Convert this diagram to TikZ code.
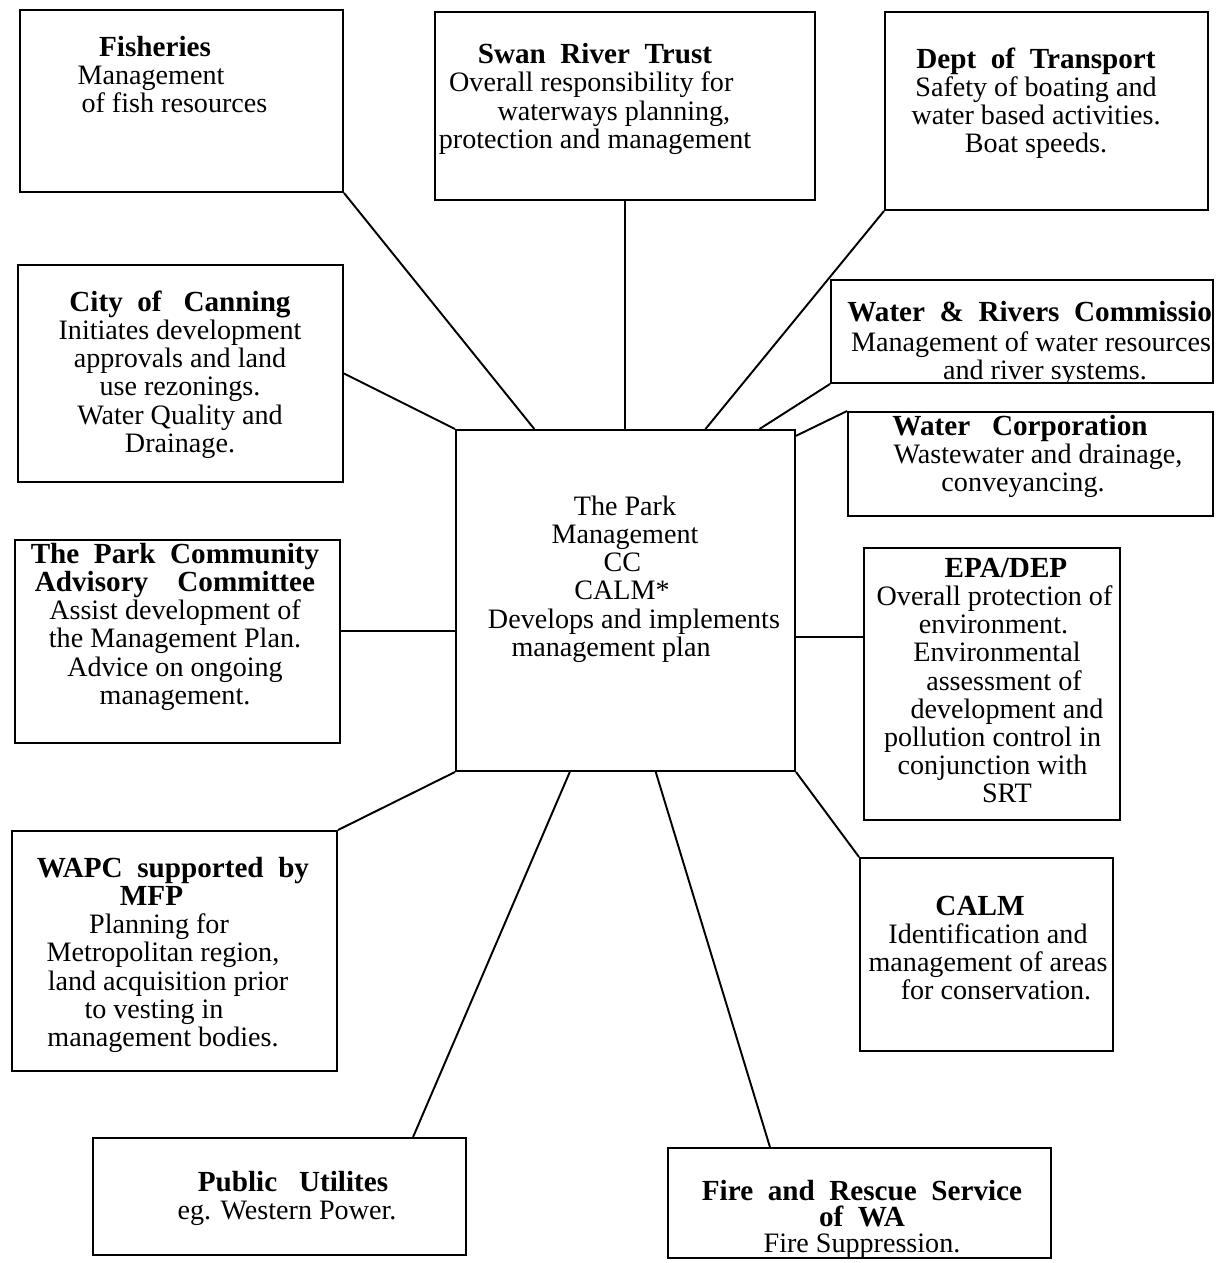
\documentclass[tikz,border=0pt]{standalone}
\usepackage{fontspec}
\setmainfont{Liberation Serif}
\usetikzlibrary{fit}
\newlength\pxu
\setlength\pxu{0.5669pt}
\newcommand\sh[1]{\hspace*{#1\pxu}\hspace*{#1\pxu}}
\newcommand\st{\rule{0pt}{12pt}}
\newcommand\hd[1]{{\fontsize{16.6pt}{16.05pt}\selectfont\bfseries\spaceskip=0.5em plus 0.1em\relax #1}}
\newcommand\ds{\hspace{0.25em}}
\tikzset{
  box/.style={draw, line width=1.1pt, inner sep=0pt},
  txt/.style={inner sep=0pt, anchor=north, align=center, font=\fontsize{16pt}{16.05pt}\selectfont},
  link/.style={line width=1.1pt}
}
\begin{document}
\begin{tikzpicture}[x=0.02cm,y=-0.02cm]
\useasboundingbox (0,0) rectangle (1229,1263);
% boxes
\node[box, fit={(20,10) (343,192)}] (fish) {};
\node[box, fit={(435,12) (815,200)}] (swan) {};
\node[box, fit={(885,12) (1208,210)}] (trans) {};
\node[box, fit={(18,265) (343,482)}] (canning) {};
\node[box, fit={(831,280) (1213,383)}] (wr) {};
\node[box, fit={(848,412) (1213,516)}] (wc) {};
\node[box, fit={(456,430) (795,771)}] (center) {};
\node[box, fit={(15,540) (340,743)}] (cac) {};
\node[box, fit={(864,548) (1120,820)}] (epa) {};
\node[box, fit={(12,831) (337,1071)}] (wapc) {};
\node[box, fit={(860,858) (1113,1051)}] (calm) {};
\node[box, fit={(93,1138) (466,1255)}] (pu) {};
\node[box, fit={(668,1148) (1051,1258)}] (fire) {};
% texts
\node[txt] (fish-t) at (155,34.8) {\st\hd{Fisheries}\\Management\sh{8}\\\sh{19.5}of fish resources};
\node[txt] (swan-t) at (595,42.3) {\st\hd{Swan River Trust}\\Overall responsibility for\sh{7.5}\\\sh{19}waterways planning,\\protection and management};
\node[txt] (trans-t) at (1036,46.8) {\st\hd{Dept of Transport}\\Safety of boating and\\water based activities.\\Boat speeds.};
\node[txt] (canning-t) at (180,289.8) {\st\hd{City of \ds Canning}\\Initiates development\\approvals and land\\use rezonings.\\Water Quality and\\Drainage.};
\begin{scope}
\clip (831,280) rectangle (1213,383);
\node[txt, anchor=north west] (wr-t) at (847,300.3) {\st\hd{Water \& Rivers Commission}};
\node[txt] (wr-b) at (1031,330.3) {\st Management of water resources\\\sh{14}and river systems.};
\end{scope}
\node[txt] (wc-t) at (1027,413.8) {\st\hd{Water \ds Corporation}\sh{7}\\\sh{11}Wastewater and drainage,\\conveyancing.\sh{4}};
\node[txt] (center-t) at (625,493.8) {\st The Park\\Management\\CC\sh{5.5}\\CALM*\sh{6}\\\sh{9}Develops and implements\\management plan\sh{14}};
\node[txt] (cac-t) at (175,541.8) {\st\hd{The Park Community}\\\hd{Advisory \ds\ds Committee}\\Assist development of\\the Management Plan.\\Advice on ongoing\\management.};
\node[txt] (epa-t) at (997,555.8) {\st\sh{9}\hd{EPA/DEP}\\Overall protection of\sh{5}\\environment.\sh{7}\\Environmental\\\sh{7}assessment of\\\sh{10}development and\\pollution control in\sh{9}\\conjunction with\sh{9}\\\sh{10}SRT};
\node[txt] (wapc-t) at (163,855.8) {\st\sh{10}\hd{WAPC supported by}\\\hd{MFP}\sh{23}\\Planning for\sh{8}\\Metropolitan region,\\\sh{5}land acquisition prior\\to vesting in\sh{18}\\management bodies.};
\node[txt] (calm-t) at (988,893.8) {\st\hd{CALM}\sh{8}\\Identification and\\management of areas\\\sh{8}for conservation.};
\node[txt] (pu-t) at (293,1169.8) {\st\hd{Public \ds Utilites}\\eg. Western Power.\sh{6}};
\node[txt, font=\fontsize{16pt}{15pt}\selectfont] (fire-t) at (862,1178.8) {\st\hd{Fire and Rescue Service}\\\hd{of WA}\\Fire Suppression.};
% connectors
\draw[link] (fish.south east) -- (center.118);
\draw[link] (swan.south) -- (swan.south |- center.north);
\draw[link] (trans.south west) -- (center.65);
\draw[link] (wr.south west) -- (center.52.6);
\draw[link] (wc.north west) -- (center.44.3);
\draw[link] (canning.east) -- (center.north west);
\draw[link] (center.190) -- (center.190 -| cac.east);
\draw[link] (center.348) -- (center.348 -| epa.west);
\draw[link] (wapc.north east) -- (center.south west);
\draw[link] (center.south east) -- (calm.north west);
\draw[link] (pu.24.3) -- (center.252);
\draw[link] (fire.148.4) -- (center.280.5);
\end{tikzpicture}
\end{document}
